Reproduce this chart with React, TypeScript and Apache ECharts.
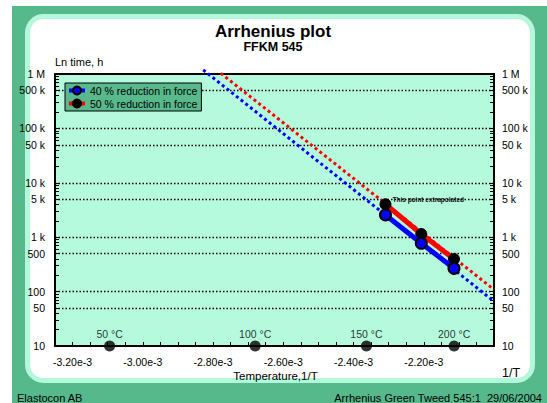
import React, { useEffect, useRef } from 'react';
import * as echarts from 'echarts';

// ---- data ----
const pointInvT = [-2.309e-3, -2.207e-3, -2.114e-3]; // 160, 180, 200 °C as -1/T
const hours40 = [2560, 773, 268];
const hours50 = [4030, 1145, 397];
const fit40X = [-2.828e-3, -2.0e-3];
const fit40Y = [1.19e6, 66];
const fit50X = [-2.778e-3, -2.0e-3];
const fit50Y = [1.03e6, 109];
const tempMarkX = [-3.0945e-3, -2.68e-3, -2.3632e-3, -2.1135e-3];
const tempMarkLabels = ['50 °C', '100 °C', '150 °C', '200 °C'];
const xTickValues = [-3.2e-3, -3.0e-3, -2.8e-3, -2.6e-3, -2.4e-3, -2.2e-3];
const xTickLabels = ['-3.20e-3', '-3.00e-3', '-2.80e-3', '-2.60e-3', '-2.40e-3', '-2.20e-3'];
const yLabelValues = [10, 50, 100, 500, 1e3, 5e3, 1e4, 5e4, 1e5, 5e5, 1e6];
const yLabelTexts = ['10', '50', '100', '500', '1 k', '5 k', '10 k', '50 k', '100 k', '500 k', '1 M'];
const yGridValues = [50, 100, 500, 1e3, 5e3, 1e4, 5e4, 1e5, 5e5];
const seriesNames = ['40 % reduction in force', '50 % reduction in force'];

const FONT = '"Liberation Sans", Arial, sans-serif';

const yMinorTicks: number[] = [];
for (let d = 10; d < 1e6; d *= 10) {
  for (let k = 1; k < 10; k++) yMinorTicks.push(d * k);
}
yMinorTicks.push(1e6);

const yLabelFmt = (v: number) => {
  const i = yLabelValues.findIndex((t) => Math.abs(t - v) / t < 1e-6);
  return i >= 0 ? yLabelTexts[i] : '';
};
const xLabelFmt = (v: number) => {
  const i = xTickValues.findIndex((t) => Math.abs(t - v) < 1e-9);
  return i >= 0 ? xTickLabels[i] : '';
};

const BLUE = '#0000ff';
const RED = '#ff0000';

export default function App() {
  const ref = useRef<HTMLDivElement>(null);
  useEffect(() => {
    if (!ref.current) return;
    const chart = echarts.init(ref.current, undefined, { renderer: 'svg' });
    const axisLine = { show: true, onZero: false, lineStyle: { color: '#000', width: 2 } };
    const yAxisBase = (pos: 'left' | 'right', margin: number) => ({
      type: 'log',
      logBase: 10,
      min: 10,
      max: 1e6,
      position: pos,
      axisLine,
      axisTick: { show: true, inside: true, length: 4, customValues: yMinorTicks, lineStyle: { color: '#000', width: 1 } },
      minorTick: { show: false },
      axisLabel: { show: true, customValues: yLabelValues, formatter: yLabelFmt, margin, fontSize: 10.5, color: '#000', fontFamily: FONT },
      splitLine: { show: false },
    });
    chart.setOption({
      animation: false,
      backgroundColor: 'transparent',
      textStyle: { fontFamily: FONT },
      grid: { left: 55, top: 74, width: 439, height: 272, show: true, backgroundColor: '#b5fadd', borderWidth: 0 },
      legend: {
        data: seriesNames,
        orient: 'vertical',
        left: 65,
        top: 83,
        z: 20,
        padding: [2, 4, 2, 2],
        itemGap: 2,
        itemWidth: 16,
        itemHeight: 10,
        backgroundColor: '#58ba8c',
        borderColor: '#000',
        borderWidth: 1,
        borderRadius: 0,
        lineStyle: { width: 4 },
        textStyle: { fontSize: 10.5, color: '#000', fontFamily: FONT },
      },
      xAxis: [
        {
          type: 'value',
          min: -3.25e-3,
          max: -2.0e-3,
          interval: 0.05e-3,
          position: 'bottom',
          axisLine,
          axisTick: { show: true, inside: true, length: 4, lineStyle: { color: '#000', width: 1 } },
          axisLabel: { formatter: xLabelFmt, margin: 10, fontSize: 10.5, color: '#000', fontFamily: FONT, showMinLabel: true, showMaxLabel: true },
          splitLine: { show: false },
        },
        {
          type: 'value',
          min: -3.25e-3,
          max: -2.0e-3,
          position: 'top',
          axisLine,
          axisTick: { show: false },
          axisLabel: { show: false },
          splitLine: { show: false },
        },
      ],
      yAxis: [yAxisBase('left', 10), yAxisBase('right', 8)],
      graphic: [
        { type: 'rect', z: -30, silent: true, shape: { x: 12, y: 6, width: 535, height: 397 }, style: { fill: '#56b98b' } },
        { type: 'rect', z: -29, silent: true, shape: { x: 27.5, y: 16.5, width: 505, height: 364, r: 16 }, style: { fill: '#ffffff', stroke: '#b4f8dc', lineWidth: 5 } },
        { type: 'text', x: 273, y: 31, style: { text: 'Arrhenius plot', fontSize: 17, fontWeight: 'bold', fontFamily: FONT, fill: '#000', textAlign: 'center', textVerticalAlign: 'middle', align: 'center', verticalAlign: 'middle' } },
        { type: 'text', x: 273, y: 47, style: { text: 'FFKM 545', fontSize: 12.5, fontWeight: 'bold', fontFamily: FONT, fill: '#000', textAlign: 'center', textVerticalAlign: 'middle', align: 'center', verticalAlign: 'middle' } },
        { type: 'text', x: 55, y: 62, style: { text: 'Ln time, h', fontSize: 11, fontFamily: FONT, fill: '#000', textAlign: 'left', textVerticalAlign: 'middle', align: 'left', verticalAlign: 'middle' } },
        { type: 'text', x: 275.5, y: 376, style: { text: 'Temperature,1/T', fontSize: 11.5, fontFamily: FONT, fill: '#000', textAlign: 'center', textVerticalAlign: 'middle', align: 'center', verticalAlign: 'middle' } },
        { type: 'text', x: 502, y: 373, style: { text: '1/T', fontSize: 12.5, fontFamily: FONT, fill: '#000', textAlign: 'left', textVerticalAlign: 'middle', align: 'left', verticalAlign: 'middle' } },
        { type: 'text', x: 17, y: 398, style: { text: 'Elastocon AB', fontSize: 11, fontFamily: FONT, fill: '#000', textAlign: 'left', textVerticalAlign: 'middle', align: 'left', verticalAlign: 'middle' } },
        { type: 'text', x: 542, y: 398, style: { text: 'Arrhenius Green Tweed 545:1  29/06/2004', fontSize: 11, fontFamily: FONT, fill: '#000', textAlign: 'right', textVerticalAlign: 'middle', align: 'right', verticalAlign: 'middle' } },
      ],
      series: [
        {
          name: 'grid',
          type: 'line',
          data: [],
          silent: true,
          z: 1,
          markLine: {
            silent: true,
            z: 1,
            symbol: ['none', 'none'],
            label: { show: false },
            lineStyle: { color: '#000', type: [1.5, 2], width: 1.3 },
            data: [...xTickValues.map((v) => ({ xAxis: v })), ...yGridValues.map((v) => ({ yAxis: v }))],
          },
        },
        {
          name: 'fit40',
          type: 'line',
          data: fit40X.map((x, i) => [x, fit40Y[i]]),
          symbol: 'none',
          clip: false,
          silent: true,
          lineStyle: { color: BLUE, width: 3, type: [3, 3], cap: 'butt' },
          z: 2,
        },
        {
          name: 'fit50',
          type: 'line',
          data: fit50X.map((x, i) => [x, fit50Y[i]]),
          symbol: 'none',
          clip: false,
          silent: true,
          lineStyle: { color: RED, width: 3, type: [3, 3], cap: 'butt' },
          z: 2,
        },
        {
          name: seriesNames[1],
          type: 'line',
          data: pointInvT.map((x, i) =>
            i === 0
              ? {
                  value: [x, hours50[i]],
                  label: {
                    show: true,
                    position: 'right',
                    distance: 1,
                    offset: [0, -5],
                    formatter: 'This point extrapolated',
                    fontSize: 6.5,
                    fontWeight: 'bold',
                    color: '#111',
                    fontFamily: FONT,
                  },
                }
              : [x, hours50[i]]
          ),
          symbol: 'circle',
          symbolSize: 11,
          itemStyle: { color: '#000', borderColor: '#000', borderWidth: 1 },
          lineStyle: { color: RED, width: 5 },
          z: 3,
        },
        {
          name: seriesNames[0],
          type: 'line',
          data: pointInvT.map((x, i) => [x, hours40[i]]),
          symbol: 'circle',
          symbolSize: 11,
          itemStyle: { color: BLUE, borderColor: '#000', borderWidth: 2 },
          lineStyle: { color: BLUE, width: 5 },
          z: 4,
        },
        {
          name: 'temps',
          type: 'scatter',
          data: tempMarkX.map((x) => [x, 10]),
          symbol: 'circle',
          symbolSize: 11,
          clip: false,
          itemStyle: { color: '#000' },
          label: {
            show: true,
            position: 'top',
            distance: 1,
            formatter: (p: any) => tempMarkLabels[p.dataIndex],
            fontSize: 10.5,
            color: '#000',
            fontFamily: FONT,
          },
          z: 5,
        },
      ],
    });
    return () => chart.dispose();
  }, []);
  return (
    <div style={{ position: 'fixed', left: 0, top: 0, width: 547, height: 403, background: '#fff' }}>
      <div ref={ref} style={{ width: 547, height: 403 }} />
    </div>
  );
}
